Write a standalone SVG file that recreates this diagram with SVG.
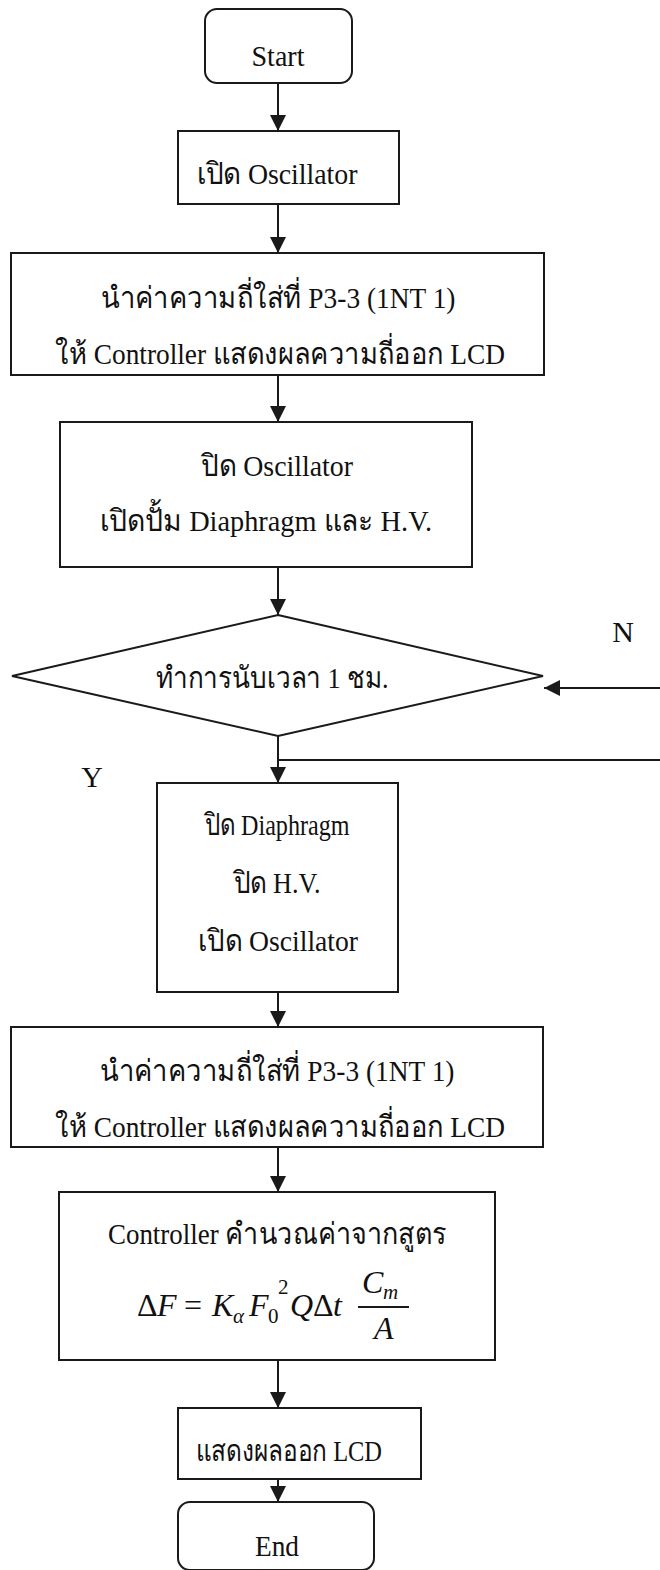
<svg xmlns="http://www.w3.org/2000/svg" width="660" height="1570" viewBox="0 0 660 1570">
  <style>
    .shape { fill: #ffffff; stroke: #1a1a1a; stroke-width: 2; }
    .wire { fill: none; stroke: #1a1a1a; stroke-width: 2; }
    .t { font-family: "Liberation Serif", "Noto Sans", "DejaVu Serif", serif; font-size: 30px; fill: #111111; text-anchor: middle; }
    .m { font-family: "Liberation Serif", serif; font-size: 32px; fill: #111111; font-style: italic; }
    .up { font-style: normal; }
    .sub { font-size: 21px; }
  </style>
  <defs>
    <marker id="head" markerUnits="userSpaceOnUse" markerWidth="16" markerHeight="16" refX="16" refY="8" orient="auto">
      <path d="M0,0 L16,8 L0,16 z" fill="#1a1a1a"/>
    </marker>
  </defs>
  <rect width="660" height="1570" fill="#ffffff"/>

  <!-- connectors -->
  <g id="connectors">
    <line class="wire" x1="278" y1="83" x2="278" y2="131" marker-end="url(#head)"/>
    <line class="wire" x1="278" y1="204" x2="278" y2="253" marker-end="url(#head)"/>
    <line class="wire" x1="278" y1="375" x2="278" y2="422" marker-end="url(#head)"/>
    <line class="wire" x1="278" y1="567" x2="278" y2="615" marker-end="url(#head)"/>
    <line class="wire" x1="278" y1="736" x2="278" y2="783" marker-end="url(#head)"/>
    <line class="wire" x1="278" y1="760" x2="660" y2="760"/>
    <line class="wire" x1="660" y1="688" x2="544" y2="688" marker-end="url(#head)"/>
    <line class="wire" x1="278" y1="992" x2="278" y2="1027" marker-end="url(#head)"/>
    <line class="wire" x1="278" y1="1147" x2="278" y2="1192" marker-end="url(#head)"/>
    <line class="wire" x1="278" y1="1360" x2="278" y2="1408" marker-end="url(#head)"/>
    <line class="wire" x1="278" y1="1479" x2="278" y2="1502" marker-end="url(#head)"/>
    <text class="t" x="623" y="642">N</text>
    <text class="t" x="92" y="787">Y</text>
  </g>

  <g id="start">
    <rect class="shape" x="205" y="9" width="147" height="74" rx="12"/>
    <text class="t" x="278" y="66" textLength="53" lengthAdjust="spacingAndGlyphs">Start</text>
  </g>

  <g id="osc-on">
    <rect class="shape" x="178" y="131" width="221" height="73"/>
    <text class="t" x="277" y="184" textLength="161" lengthAdjust="spacingAndGlyphs">เปิด Oscillator</text>
  </g>

  <g id="read-freq-1">
    <rect class="shape" x="11" y="253" width="533" height="122"/>
    <text class="t" x="278" y="308" textLength="355" lengthAdjust="spacingAndGlyphs">นำค่าความถี่ใส่ที่ P3-3 (1NT 1)</text>
    <text class="t" x="280" y="364" textLength="450" lengthAdjust="spacingAndGlyphs">ให้ Controller แสดงผลความถี่ออก LCD</text>
  </g>

  <g id="pump-on">
    <rect class="shape" x="60" y="422" width="412" height="145"/>
    <text class="t" x="277" y="476" textLength="152" lengthAdjust="spacingAndGlyphs">ปิด Oscillator</text>
    <text class="t" x="266" y="531" textLength="332" lengthAdjust="spacingAndGlyphs">เปิดปั้ม Diaphragm และ H.V.</text>
  </g>

  <g id="timer">
    <polygon class="shape" points="278,615 543,676 278,736 12,676"/>
    <text class="t" x="272" y="688" textLength="233" lengthAdjust="spacingAndGlyphs">ทำการนับเวลา 1 ชม.</text>
  </g>

  <g id="pump-off">
    <rect class="shape" x="157" y="783" width="241" height="209"/>
    <text class="t" x="277" y="835" textLength="145" lengthAdjust="spacingAndGlyphs">ปิด Diaphragm</text>
    <text class="t" x="277" y="893" textLength="87" lengthAdjust="spacingAndGlyphs">ปิด H.V.</text>
    <text class="t" x="278" y="951" textLength="160" lengthAdjust="spacingAndGlyphs">เปิด Oscillator</text>
  </g>

  <g id="read-freq-2">
    <rect class="shape" x="11" y="1027" width="532" height="120"/>
    <text class="t" x="277" y="1081" textLength="355" lengthAdjust="spacingAndGlyphs">นำค่าความถี่ใส่ที่ P3-3 (1NT 1)</text>
    <text class="t" x="280" y="1137" textLength="450" lengthAdjust="spacingAndGlyphs">ให้ Controller แสดงผลความถี่ออก LCD</text>
  </g>

  <g id="compute">
    <rect class="shape" x="59" y="1192" width="436" height="168"/>
    <text class="t" x="277" y="1244" textLength="338" lengthAdjust="spacingAndGlyphs">Controller คำนวณค่าจากสูตร</text>
    <!-- ΔF = Kα F0² QΔt · Cm / A -->
    <text class="m" y="1316"><tspan class="up" x="137">Δ</tspan><tspan x="157">F</tspan><tspan class="up" x="184">=</tspan><tspan x="212">K</tspan><tspan class="sub" x="233" y="1323">α</tspan><tspan x="249" y="1316">F</tspan><tspan class="sub up" x="268" y="1323">0</tspan><tspan class="sub up" x="278" y="1294">2</tspan><tspan x="290" y="1316">Q</tspan><tspan class="up" x="313">Δ</tspan><tspan x="333">t</tspan></text>
    <line class="wire" x1="358" y1="1307" x2="409" y2="1307" stroke-width="1.5"/>
    <text class="m" y="1293"><tspan x="362">C</tspan><tspan class="sub" x="383" y="1299">m</tspan></text>
    <text class="m" x="374" y="1339">A</text>
  </g>

  <g id="display">
    <rect class="shape" x="178" y="1408" width="243" height="71"/>
    <text class="t" x="289" y="1461" textLength="186" lengthAdjust="spacingAndGlyphs">แสดงผลออก LCD</text>
  </g>

  <g id="end">
    <rect class="shape" x="178" y="1502" width="196" height="68" rx="12"/>
    <text class="t" x="277" y="1556" textLength="44" lengthAdjust="spacingAndGlyphs">End</text>
  </g>
</svg>
